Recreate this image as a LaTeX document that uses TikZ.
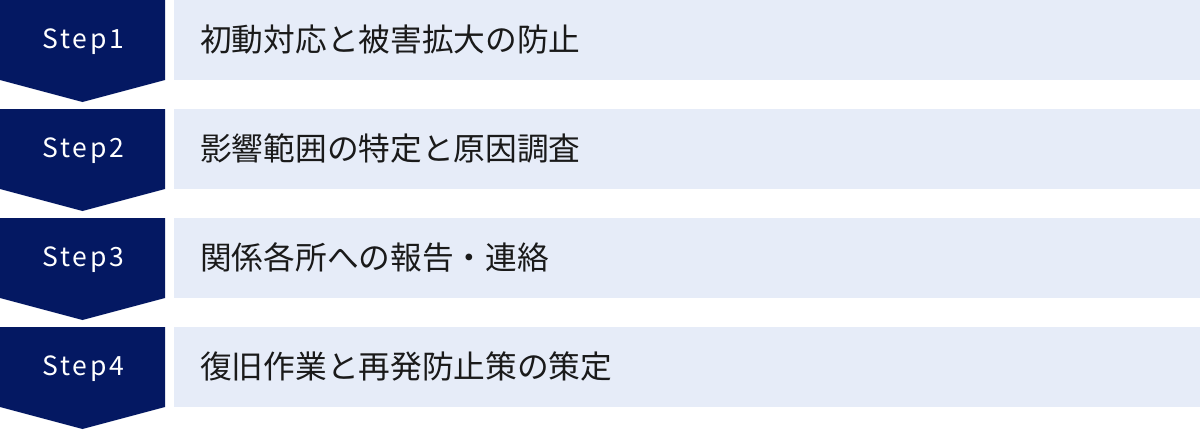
\documentclass[tikz,border=0pt]{standalone}
\usepackage{fontspec}
\setmainfont{Noto Sans CJK JP}
\newfontfamily\stepfont[LetterSpace=11]{Noto Sans CJK JP}
\newfontfamily\jpfont{Noto Sans CJK JP}
\definecolor{navy}{HTML}{041862}
\definecolor{lightbox}{HTML}{E6ECF8}
\definecolor{ink}{HTML}{1A1A1A}
\tikzset{
  stepshape/.style={fill=navy, draw=none},
  steplabel/.style={text=white, font=\stepfont\fontsize{26.5}{28}\selectfont, inner sep=0pt, anchor=base},
  bodybox/.style={fill=lightbox, draw=none},
  bodylabel/.style={text=ink, font=\jpfont\fontsize{31.7}{34}\selectfont, inner sep=0pt, anchor=base west}
}
\begin{document}
\begin{tikzpicture}[x=1pt,y=-1pt]
\useasboundingbox (0,0) rectangle (1200,429);
\foreach \i/\lab/\txt in {0/Step1/初動対応と被害拡大の防止, 1/Step2/影響範囲の特定と原因調査, 2/Step3/関係各所への報告・連絡, 3/Step4/復旧作業と再発防止策の策定}{
  \pgfmathsetmacro{\y}{109*\i}
  \fill[stepshape] (0,\y) -- (165,\y) -- (165,\y+80) -- (82.5,\y+102) -- (0,\y+80) -- cycle;
  \fill[bodybox] (174,\y) rectangle (1200,\y+80);
  \node[steplabel] (s\i) at (83.5,\y+48.8) {\lab};
  \node[bodylabel] (t\i) at (200,\y+51.5) {\txt};
}
\end{tikzpicture}
\end{document}
